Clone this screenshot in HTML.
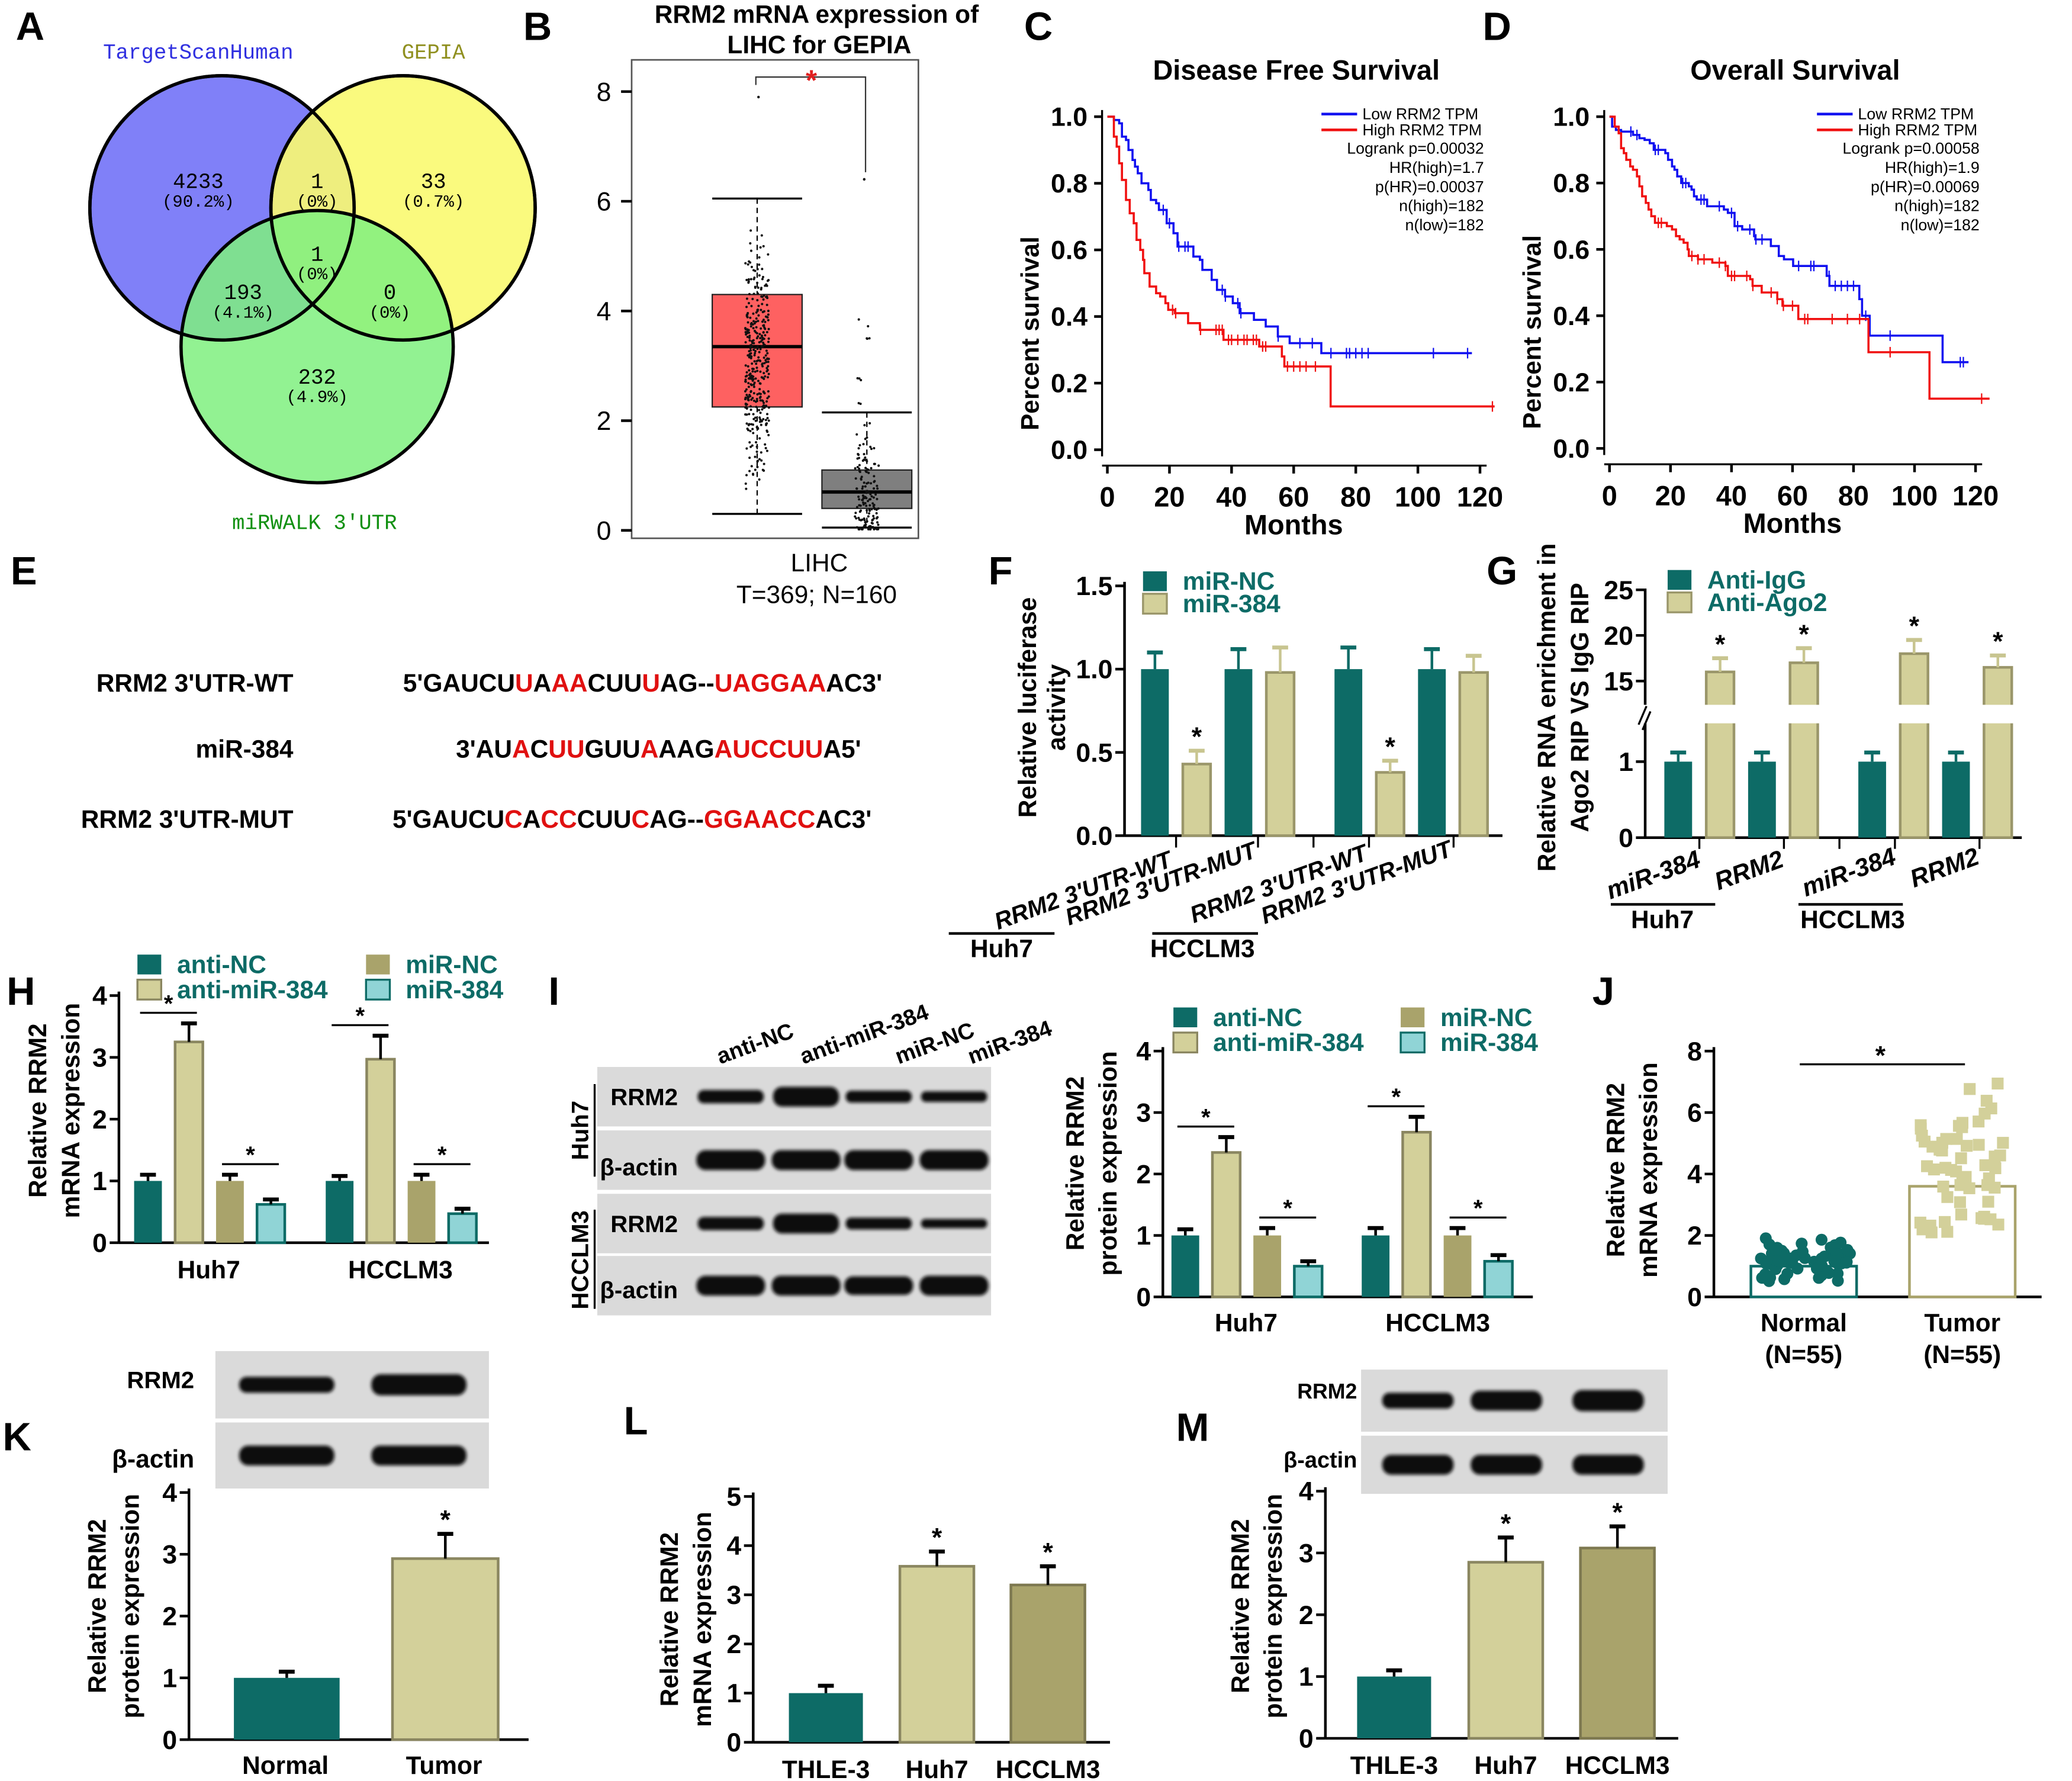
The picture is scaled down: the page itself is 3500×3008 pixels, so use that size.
<!DOCTYPE html>
<html><head><meta charset="utf-8">
<style>
html,body{margin:0;padding:0;background:#fff;}
svg{display:block;font-family:"Liberation Sans",Arial,sans-serif;}
</style></head>
<body>
<svg id="fig" width="3500" height="3008" viewBox="0 0 1568 1347" xmlns="http://www.w3.org/2000/svg">
<defs><filter id="blur" x="-20%" y="-50%" width="140%" height="200%"><feGaussianBlur stdDeviation="1.3"/></filter></defs>
<rect x="0" y="0" width="1568" height="1347" fill="#fff"/>
</svg>
<script>
// ---------- DATA ----------
const boxCats=['Tumor','Normal'];
const boxQ1=[2.25,0.4], boxMed=[3.35,0.7], boxQ3=[4.3,1.1], boxLo=[0.3,0.05], boxHi=[6.05,2.15];
const cLowT=[0,2.1,3.8,4.7,6,6.8,8.1,8.9,9.8,11,13.2,14,15.7,16.6,19.1,21.3,22.6,27.7,29.8,30.6,33.6,35.3,37.9,40.4,42.6,47.2,51,54.9,58.7,68.9,117.4];
const cLowS=[1,0.99,0.98,0.94,0.93,0.9,0.87,0.85,0.83,0.8,0.78,0.75,0.74,0.72,0.68,0.65,0.61,0.58,0.57,0.54,0.51,0.48,0.46,0.44,0.41,0.39,0.37,0.34,0.32,0.29,0.29];
const cHighT=[0,2.1,3,3.8,4.7,6,7.2,8.5,9.4,10.6,11.5,11.9,13.6,15.7,17,18.7,19.6,21.7,26,29.8,37.4,48.9,56.2,57,71.9,124.7];
const cHighS=[1,0.94,0.91,0.86,0.81,0.75,0.71,0.68,0.63,0.6,0.57,0.53,0.49,0.47,0.46,0.44,0.42,0.41,0.38,0.36,0.33,0.31,0.28,0.25,0.13,0.13];
const cLowCens=[18,20,23,25,26,37,38,42,43,55,62,66,72,77,78,80,82,84,105,116];
const cHighCens=[21,22,30,35,36,37,39,40,42,44,45,47,48,50,51,58,60,62,64,67,124];
const dLowT=[0,0.85,2.1,3.8,7.7,9.8,11.5,13.2,14.5,18.3,19.2,20.5,21.3,22.2,23.5,26,26.9,27.7,28.6,32,37.5,38.8,41,43.5,47.4,47.8,52.9,55.5,57.2,60.2,71.2,72.1,81.9,82.8,85.3,109.2,117.7];
const dLowS=[1,0.97,0.96,0.955,0.945,0.935,0.93,0.92,0.9,0.89,0.87,0.85,0.84,0.82,0.8,0.79,0.78,0.76,0.75,0.73,0.72,0.71,0.67,0.66,0.64,0.63,0.61,0.58,0.57,0.55,0.52,0.49,0.45,0.4,0.34,0.26,0.26];
const dHighT=[0,1.7,3,3.8,4.7,5.5,6.8,7.7,9,9.8,10.7,11.9,12.8,13.7,14.9,18.8,20.5,21.8,23,24.3,25.6,26,29,33.7,38,38.8,46.1,46.9,49.9,55,56.7,61.9,84.9,104.9,124.6];
const dHighS=[1,0.97,0.95,0.905,0.89,0.87,0.85,0.84,0.82,0.79,0.76,0.74,0.72,0.7,0.68,0.67,0.66,0.64,0.63,0.62,0.6,0.58,0.57,0.56,0.55,0.52,0.51,0.49,0.47,0.45,0.43,0.39,0.29,0.15,0.15];
const dLowCens=[7,9,15,16,24,25,30,31,36,40,42,46,48,50,62,66,67,72,74,76,78,80,84,92,115,116];
const dHighCens=[16,17,27,29,31,36,38,40,41,45,47,53,55,57,60,64,65,73,78,82,92,122];
const survTicksX=[0,20,40,60,80,100,120];
const survTicksY=[0,0.2,0.4,0.6,0.8,1.0];
const fVals=[1.0,0.43,1.0,0.98,1.0,0.38,1.0,0.98];
const fErr=[0.1,0.08,0.12,0.15,0.13,0.07,0.12,0.1];
const fLabels=["RRM2 3'UTR-WT","RRM2 3'UTR-MUT","RRM2 3'UTR-WT","RRM2 3'UTR-MUT"];
const gVals=[1,16,1,17,1,18,1,16.5];
const gErr=[0.12,1.5,0.12,1.6,0.12,1.5,0.12,1.3];
const gLabels=['miR-384','RRM2','miR-384','RRM2'];
const hVals=[1,3.25,1,0.62,1,2.97,1,0.47];
const hErr=[0.1,0.3,0.1,0.08,0.08,0.38,0.1,0.08];
const iVals=[1,2.35,1,0.5,1,2.68,1,0.58];
const iErr=[0.1,0.25,0.12,0.08,0.12,0.25,0.12,0.1];
const jCats=['Normal','Tumor'];
const jVals=[1.0,3.6];
const kVals=[1,2.93], kErr=[0.1,0.4];
const lVals=[1,3.58,3.2], lErr=[0.15,0.3,0.38];
const mVals=[1,2.85,3.08], mErr=[0.1,0.4,0.35];

// ---------- HELPERS ----------
const NS='http://www.w3.org/2000/svg';
const svg=document.getElementById('fig');
function mk(tag,attrs,name,parent){
  const el=document.createElementNS(NS,tag);
  for(const k in attrs) el.setAttribute(k,attrs[k]);
  
  
  (parent||svg).appendChild(el);
  return el;
}
function T(x,y,s,size,name,o){
  o=o||{};
  const el=mk('text',{x:x,y:y,'font-size':size,'font-weight':o.w||'bold',fill:o.c||'#000','text-anchor':o.a||'start','font-family':o.f||'"Liberation Sans",Arial,sans-serif','font-style':o.i?'italic':'normal'},name);
  if(o.r!==undefined) el.setAttribute('transform','rotate('+o.r+' '+x+' '+y+')');
  el.textContent=s;return el;
}
function L(x1,y1,x2,y2,name,o){o=o||{};return mk('line',{x1:x1,y1:y1,x2:x2,y2:y2,stroke:o.c||'#000','stroke-width':o.w||2,'stroke-dasharray':o.d||'none'},name);}
function R(x,y,w,h,fill,name,o){o=o||{};return mk('rect',{x:x,y:y,width:w,height:h,fill:fill,stroke:o.s||'none','stroke-width':o.sw||2},name);}
const TEAL='#0d6b66', KH='#d3d09a', OL='#a9a36b', CY='#90d4d6';
let seed=7;function rnd(){seed=(seed*9301+49297)%233280;return seed/233280;}

// panel letters
[['A',12,30],['B',396,30],['C',775,30],['D',1122,30],['E',8,442],['F',748,442],['G',1125,442],['H',5,760],['I',415,760],['J',1205,760],['K',2,1097],['L',472,1085],['M',890,1090]].forEach(p=>T(p[1],p[2],p[0],30,'panel-label-'+p[0].toLowerCase()));

// ---------- A: Venn ----------
mk('circle',{cx:168,cy:157,r:100,fill:'#8080f8',stroke:'#000','stroke-width':2.5},'venn-targetscan');
mk('circle',{cx:305,cy:157,r:100,fill:'#fafa70','fill-opacity':0.9,stroke:'#000','stroke-width':2.5},'venn-gepia');
mk('circle',{cx:240,cy:262,r:103,fill:'#7ff07f','fill-opacity':0.85,stroke:'#000','stroke-width':2.5},'venn-mirwalk');
mk('circle',{cx:168,cy:157,r:100,fill:'none',stroke:'#000','stroke-width':2.5},'venn-outline-1');
mk('circle',{cx:305,cy:157,r:100,fill:'none',stroke:'#000','stroke-width':2.5},'venn-outline-2');
const MF='"Liberation Mono",monospace';
T(150,44,'TargetScanHuman',16,'venn-title-targetscan',{w:'normal',c:'#3030e0',a:'middle',f:MF});
T(328,44,'GEPIA',16,'venn-title-gepia',{w:'normal',c:'#909020',a:'middle',f:MF});
T(238,400,"miRWALK 3'UTR",16,'venn-title-mirwalk',{w:'normal',c:'#109010',a:'middle',f:MF});
[[150,142,'4233','(90.2%)'],[240,142,'1','(0%)'],[328,142,'33','(0.7%)'],[240,197,'1','(0%)'],[184,226,'193','(4.1%)'],[295,226,'0','(0%)'],[240,290,'232','(4.9%)']].forEach((v,i)=>{
  T(v[0],v[1],v[2],16,'venn-count-'+i,{w:'normal',a:'middle',f:MF});
  T(v[0],v[1]+14,v[3],13,'venn-pct-'+i,{w:'normal',a:'middle',f:MF});
});

// ---------- B: box plot ----------
R(478,45,217,362,'none','boxplot-frame',{s:'#555',sw:1.2});
const bY=v=>401-v*41.5;
[0,2,4,6,8].forEach(t=>{L(470,bY(t),478,bY(t),'b-ytick');T(457,bY(t)+7,String(t),20,'b-ytick-label',{w:'normal',a:'middle'});});
T(618,17,'RRM2 mRNA expression of',19,'b-title-1',{a:'middle'});
T(620,40,'LIHC for GEPIA',19,'b-title-2',{a:'middle'});
const bCx=[573,656], bCol=['#fe6161','#7f7f7f'];
boxCats.forEach((c,i)=>{
  const cx=bCx[i];
  L(cx-34,bY(boxLo[i]),cx+34,bY(boxLo[i]),'b-whisker-low-'+c,{w:1.5});
  L(cx-34,bY(boxHi[i]),cx+34,bY(boxHi[i]),'b-whisker-high-'+c,{w:1.5});
  L(cx,bY(boxHi[i]),cx,bY(boxQ3[i]),'b-whisker-line',{w:1,d:'4,3'});
  L(cx,bY(boxQ1[i]),cx,bY(boxLo[i]),'b-whisker-line',{w:1,d:'4,3'});
  R(cx-34,bY(boxQ3[i]),68,bY(boxQ1[i])-bY(boxQ3[i]),bCol[i],'b-box-'+c,{s:'#222',sw:1});
  L(cx-34,bY(boxMed[i]),cx+34,bY(boxMed[i]),'b-median-'+c,{w:2.5});
  const n=i===0?369:160;
  for(let k=0;k<n;k++){
    const r1=(rnd()+rnd()+rnd())/3,r2=rnd();
    let v=i===0?boxLo[i]+(boxHi[i]-boxLo[i])*r1: Math.max(0.02,Math.pow(rnd(),1.6)*1.6+ (rnd()>0.9?rnd()*3:0));
    mk('circle',{cx:cx-9+18*r2,cy:bY(v),r:0.9,fill:'#111'},'b-point');
  }
});
mk('circle',{cx:574,cy:bY(7.9),r:1,fill:'#111'},'b-outlier');
mk('circle',{cx:654,cy:bY(6.4),r:1,fill:'#111'},'b-outlier');
mk('polyline',{points:'572,64 572,58 655,58 655,130',fill:'none',stroke:'#333','stroke-width':1},'b-sig-bracket');
T(614,68,'*',22,'b-sig-star',{c:'#e02020',a:'middle'});
T(620,432,'LIHC',19,'b-xlabel',{a:'middle',w:'normal'});
T(618,456,'T=369; N=160',19,'b-xlabel-2',{a:'middle',w:'normal'});

// ---------- C & D survival ----------
function surv(cfg){
  const sx=m=>cfg.x0+(cfg.x1-cfg.x0)*m/120, sy=v=>cfg.y0-(cfg.y0-cfg.y1)*v;
  L(cfg.x0-4,cfg.y1-5,cfg.x0-4,cfg.y0+5,cfg.p+'-yaxis',{w:1.5});
  L(cfg.x0-4,cfg.y0+12,cfg.x1+5,cfg.y0+12,cfg.p+'-xaxis',{w:1.5});
  survTicksY.forEach(t=>{L(cfg.x0-10,sy(t),cfg.x0-4,sy(t),cfg.p+'-ytick');T(cfg.x0-15,sy(t)+7,t.toFixed(1),20,cfg.p+'-ytick-label',{a:'end'});});
  survTicksX.forEach(t=>{L(sx(t),cfg.y0+12,sx(t),cfg.y0+18,cfg.p+'-xtick');T(sx(t),cfg.y0+43,String(t),21,cfg.p+'-xtick-label',{a:'middle'});});
  T((cfg.x0+cfg.x1)/2,cfg.y0+64,'Months',21,cfg.p+'-xtitle',{a:'middle'});
  T(cfg.x0-52,cfg.y0-88,'Percent survival',19,cfg.p+'-ytitle',{a:'middle',r:-90});
  T((cfg.x0+cfg.x1)/2+2,cfg.y1-28,cfg.title,21,cfg.p+'-title',{a:'middle'});
  [[cfg.lowT,cfg.lowS,'#1010f0','low',cfg.lowC],[cfg.highT,cfg.highS,'#f01010','high',cfg.highC]].forEach(s=>{
    let pts='';
    s[0].forEach((t,i)=>{if(i>0)pts+=sx(t)+','+sy(s[1][i-1])+' ';pts+=sx(t)+','+sy(s[1][i])+' ';});
    mk('polyline',{points:pts,fill:'none',stroke:s[2],'stroke-width':1.6},cfg.p+'-curve-'+s[3]);
    const at=m=>{let v=1;s[0].forEach((t,i)=>{if(t<=m)v=s[1][i];});return v;};
    s[4].forEach(m=>L(sx(m),sy(at(m))-4,sx(m),sy(at(m))+4,cfg.p+'-censor-'+s[3],{c:s[2],w:1}));
  });
  const lx=cfg.x1-115,ly=cfg.y1-2;
  L(lx-5,ly,lx+22,ly,cfg.p+'-legend-low',{c:'#1010f0'});T(lx+26,ly+4,'Low RRM2 TPM',12,cfg.p+'-legend-low-text',{w:'normal'});
  L(lx-5,ly+12,lx+22,ly+12,cfg.p+'-legend-high',{c:'#f01010'});T(lx+26,ly+16,'High RRM2 TPM',12,cfg.p+'-legend-high-text',{w:'normal'});
  cfg.stats.forEach((s,i)=>T(cfg.x1+3,ly+30+i*14.5,s,12,cfg.p+'-stat',{w:'normal',a:'end'}));
}
surv({p:'c',x0:838,x1:1120,y0:340,y1:88,title:'Disease Free Survival',lowT:cLowT,lowS:cLowS,highT:cHighT,highS:cHighS,lowC:cLowCens,highC:cHighCens,stats:['Logrank p=0.00032','HR(high)=1.7','p(HR)=0.00037','n(high)=182','n(low)=182']});
surv({p:'d',x0:1218,x1:1495,y0:339,y1:88,title:'Overall Survival',lowT:dLowT,lowS:dLowS,highT:dHighT,highS:dHighS,lowC:dLowCens,highC:dHighCens,stats:['Logrank p=0.00058','HR(high)=1.9','p(HR)=0.00069','n(high)=182','n(low)=182']});

// ---------- E sequences ----------
function seq(x,y,parts,name){
  const el=mk('text',{x:x,y:y,'font-size':19,'font-weight':'bold'},name);
  parts.forEach((p,i)=>{const t=document.createElementNS(NS,'tspan');t.setAttribute('fill',i%2?'#e01010':'#000');t.textContent=p;el.appendChild(t);});
}
T(222,523,"RRM2 3'UTR-WT",19,'e-label-wt',{a:'end'});
T(222,573,'miR-384',19,'e-label-mir',{a:'end'});
T(222,626,"RRM2 3'UTR-MUT",19,'e-label-mut',{a:'end'});
seq(305,523,["5'GAUCU","U","A","AA","CUU","U","AG--","UAGGAA","AC3'"],'e-seq-wt');
seq(345,573,["3'AU","A","C","UU","GUU","A","AAG","AUCCUU","A5'"],'e-seq-mir');
seq(297,626,["5'GAUCU","C","A","CC","CUU","C","AG--","GGAACC","AC3'"],'e-seq-mut');

// ---------- bar chart helper ----------
function bars(c){
  const yf=c.yfn||(v=>c.base-v*(c.base-c.top)/c.max);
  L(c.ax,c.axTop||c.top-3,c.ax,c.base,c.p+'-yaxis');
  L(c.ax,c.base,c.axRight,c.base,c.p+'-xaxis');
  c.ticks.forEach(t=>{L(c.ax-7,yf(t),c.ax,yf(t),c.p+'-ytick');T(c.ax-9,yf(t)+7,c.tickFmt?c.tickFmt(t):String(t),c.fs||20,c.p+'-ytick-label',{a:'end'});});
  const xs=[];
  c.vals.forEach((v,i)=>{
    const cx=c.start+i*c.step+Math.floor(i/c.per)*c.gap;xs.push(cx);
    const col=c.colors[i%c.per], st=c.strokes?c.strokes[i%c.per]:'none';
    R(cx-c.bw/2,yf(v),c.bw,c.base-yf(v),col,c.p+'-bar-'+i,{s:st,sw:2});
    if(c.err){const e=yf(v+c.err[i]);const ec=c.errColors?c.errColors[i%c.per]:'#000';L(cx,yf(v),cx,e,c.p+'-errbar-'+i,{c:ec});L(cx-6,e,cx+6,e,c.p+'-errcap-'+i,{c:ec,w:3});}
    if(c.stars&&c.stars.includes(i)){T(cx,yf(v+(c.err?c.err[i]:0))-4,'*',20,c.p+'-star-'+i,{a:'middle'});}
  });
  return {xs:xs,yf:yf};
}
function legend(x,y,col,label,name,st){R(x,y-13,18,15,col,name+'-swatch',{s:st||'none',sw:1.5});T(x+30,y+1,label,19,name,{c:TEAL});}

// ---------- F ----------
bars({p:'f',ax:851,base:632,top:443,max:1.5,axRight:1137,ticks:[0,0.5,1,1.5],tickFmt:t=>t.toFixed(1),vals:fVals,err:fErr,start:874,step:31.6,per:4,gap:20,bw:21,colors:[TEAL,KH,TEAL,KH],strokes:['none','#9a966a','none','#9a966a'],errColors:[TEAL,'#c8c590',TEAL,'#c8c590'],stars:[1,5]});
[890,952,994,1036,1100].forEach(x=>L(x,632,x,641,'f-category-tick',{w:1.5}));
T(784,535,'Relative luciferase',19,'f-ytitle-1',{a:'middle',r:-90});
T(806,535,'activity',19,'f-ytitle-2',{a:'middle',r:-90});
legend(865,445,TEAL,'miR-NC','f-legend-mirnc');legend(865,462,KH,'miR-384','f-legend-mir384','#9a966a');
[[888,655],[952,648],[1036,650],[1100,647]].forEach((p,i)=>T(p[0],p[1],fLabels[i],18,'f-xlabel-'+i,{a:'end',r:-20,i:true}));
L(718,706,798,706,'f-group-line-huh7');T(758,724,'Huh7',19,'f-group-huh7',{a:'middle'});
L(872,706,952,706,'f-group-line-hcclm3');T(910,724,'HCCLM3',19,'f-group-hcclm3',{a:'middle'});

// ---------- G ----------
const gy=v=>v<=1.5?633.5-v*57.5:515-(v-15)*6.9;
bars({p:'g',ax:1245,base:633.5,top:445,axTop:445,axRight:1530,ticks:[0,1,15,20,25],yfn:gy,vals:gVals,err:gErr,start:1270,step:31.7,per:4,gap:20,bw:21,colors:[TEAL,KH,TEAL,KH],strokes:['none','#9a966a','none','#9a966a'],errColors:[TEAL,'#c8c590',TEAL,'#c8c590'],stars:[1,3,5,7]});
R(1238,533,300,14,'#fff','g-axis-break');
L(1240,548,1246,534,'g-break-mark-1',{w:1.5});L(1243,552,1249,538,'g-break-mark-2',{w:1.5});
[1286,1350,1392,1434,1498].forEach(x=>L(x,633.5,x,642,'g-category-tick',{w:1.5}));
T(1177,535,'Relative RNA enrichment in',19,'g-ytitle-1',{a:'middle',r:-90});
T(1202,535,'Ago2 RIP VS IgG RIP',19,'g-ytitle-2',{a:'middle',r:-90});
legend(1262,444,TEAL,'Anti-IgG','g-legend-igg');legend(1262,461,KH,'Anti-Ago2','g-legend-ago2','#9a966a');
[[1288,655],[1351,655],[1436,653],[1499,653]].forEach((p,i)=>T(p[0],p[1],gLabels[i],19,'g-xlabel-'+i,{a:'end',r:-20,i:true}));
L(1219,684,1298,684,'g-group-line-huh7');T(1258,702,'Huh7',19,'g-group-huh7',{a:'middle'});
L(1361,684,1440,684,'g-group-line-hcclm3');T(1402,702,'HCCLM3',19,'g-group-hcclm3',{a:'middle'});

// ---------- H ----------
const hB=bars({p:'h',ax:90,base:940,top:753,max:4,axRight:370,ticks:[0,1,2,3,4],vals:hVals,err:hErr,start:112,step:31,per:4,gap:21,bw:21,colors:[TEAL,KH,OL,CY],strokes:['none','#8a8660','none',TEAL]});
function pairStars(b,vals,err,p){
  [[0,1],[2,3],[4,5],[6,7]].forEach((pr,j)=>{
    const top=Math.min(b.yf(vals[pr[0]]+err[pr[0]]),b.yf(vals[pr[1]]+err[pr[1]]))-8;
    L(b.xs[pr[0]]-6,top,b.xs[pr[1]]+6,top,p+'-sig-line-'+j,{w:1.5});
    T((b.xs[pr[0]]+b.xs[pr[1]])/2,top-1,'*',18,p+'-sig-star-'+j,{a:'middle'});
  });
}
pairStars(hB,hVals,hErr,'h');
T(35,840,'Relative RRM2',19,'h-ytitle-1',{a:'middle',r:-90});T(60,840,'mRNA expression',19,'h-ytitle-2',{a:'middle',r:-90});
legend(104,735,TEAL,'anti-NC','h-legend-antinc');legend(104,754,KH,'anti-miR-384','h-legend-antimir',"#8a8660");
legend(277,735,OL,'miR-NC','h-legend-mirnc');legend(277,754,CY,'miR-384','h-legend-mir384',TEAL);
T(158,967,'Huh7',19,'h-group-huh7',{a:'middle'});T(303,967,'HCCLM3',19,'h-group-hcclm3',{a:'middle'});

// ---------- blots ----------
function blot(x,y,w,h,bandsX,bw,thick,name){
  R(x,y,w,h,'#dadada',name+'-strip');
  bandsX.forEach((bx,i)=>mk('rect',{x:bx-bw/2,y:y+h/2-thick[i]/2,width:bw,height:thick[i],rx:thick[i]/2.2,fill:'#111',filter:'url(#blur)'},name+'-band-'+i));
}
const iLanes=[553,610,665,722];
blot(452,807,298,45,iLanes,50,[10,15,9,8],'i-blot-huh7-rrm2');
blot(452,855,298,45,iLanes,52,[15,15,15,15],'i-blot-huh7-actin');
blot(452,903,298,45,iLanes,50,[10,15,9,7],'i-blot-hcclm3-rrm2');
blot(452,950,298,45,iLanes,52,[15,15,14,15],'i-blot-hcclm3-actin');
T(462,836,'RRM2',18,'i-label-rrm2-1');T(454,889,'β-actin',18,'i-label-actin-1');
T(462,932,'RRM2',18,'i-label-rrm2-2');T(454,982,'β-actin',18,'i-label-actin-2');
L(450,820,450,890,'i-bracket-huh7',{w:1.5});L(450,915,450,990,'i-bracket-hcclm3',{w:1.5});
T(445,855,'Huh7',18,'i-side-huh7',{a:'middle',r:-90});T(445,953,'HCCLM3',18,'i-side-hcclm3',{a:'middle',r:-90});
['anti-NC','anti-miR-384','miR-NC','miR-384'].forEach((s,i)=>T([545,608,680,735][i],805,s,17,'i-lane-label-'+i,{r:-20}));
const iB=bars({p:'i',ax:880,base:981,top:795,max:4,axRight:1160,ticks:[0,1,2,3,4],vals:iVals,err:iErr,start:897,step:31,per:4,gap:20,bw:21,colors:[TEAL,KH,OL,CY],strokes:['none','#8a8660','none',TEAL]});
pairStars(iB,iVals,iErr,'i');
T(820,880,'Relative RRM2',19,'i-ytitle-1',{a:'middle',r:-90});T(845,880,'protein expression',19,'i-ytitle-2',{a:'middle',r:-90});
legend(888,775,TEAL,'anti-NC','i-legend-antinc');legend(888,794,KH,'anti-miR-384','i-legend-antimir','#8a8660');
legend(1060,775,OL,'miR-NC','i-legend-mirnc');legend(1060,794,CY,'miR-384','i-legend-mir384',TEAL);
T(943,1007,'Huh7',19,'i-group-huh7',{a:'middle'});T(1088,1007,'HCCLM3',19,'i-group-hcclm3',{a:'middle'});

// ---------- J ----------
const jB=bars({p:'j',ax:1297,base:981,top:795,max:8,axRight:1545,ticks:[0,2,4,6,8],vals:jVals,start:1365,step:120,per:2,gap:0,bw:80,colors:['#fff','#fff'],strokes:[TEAL,'#a9a36b']});
jCats.forEach((c,i)=>{
  for(let k=0;k<55;k++){
    const r1=(rnd()+rnd())/2,r2=rnd();
    const v=i===0?0.15+r1*2.1:1.4+r1*5.7;
    const cx=jB.xs[i]-35+70*r2, cy=jB.yf(v);
    if(i===0) mk('circle',{cx:cx,cy:cy,r:4.5,fill:TEAL},'j-point-normal');
    else R(cx-4.5,cy-4.5,9,9,KH,'j-point-tumor');
  }
});
L(1362,805,1487,805,'j-sig-line',{w:1.5});T(1423,805,'*',20,'j-sig-star',{a:'middle'});
T(1229,885,'Relative RRM2',19,'j-ytitle-1',{a:'middle',r:-90});T(1254,885,'mRNA expression',19,'j-ytitle-2',{a:'middle',r:-90});
T(1365,1007,'Normal',19,'j-xlabel-normal',{a:'middle'});T(1365,1031,'(N=55)',19,'j-xlabel-normal-n',{a:'middle'});
T(1485,1007,'Tumor',19,'j-xlabel-tumor',{a:'middle'});T(1485,1031,'(N=55)',19,'j-xlabel-tumor-n',{a:'middle'});

// ---------- K ----------
blot(163,1022,207,51,[217,317],72,[12,16],'k-blot-rrm2');
blot(163,1076,207,50,[217,317],72,[15,15],'k-blot-actin');
T(147,1050,'RRM2',18,'k-label-rrm2',{a:'end'});T(147,1110,'β-actin',19,'k-label-actin',{a:'end'});
bars({p:'k',ax:143,base:1316,top:1129,max:4,axRight:400,ticks:[0,1,2,3,4],vals:kVals,err:kErr,start:217,step:120,per:2,gap:0,bw:80,colors:[TEAL,KH],strokes:['none','#8a8660'],stars:[1]});
T(80,1215,'Relative RRM2',19,'k-ytitle-1',{a:'middle',r:-90});T(105,1215,'protein expression',19,'k-ytitle-2',{a:'middle',r:-90});
T(216,1342,'Normal',19,'k-xlabel-normal',{a:'middle'});T(336,1342,'Tumor',19,'k-xlabel-tumor',{a:'middle'});

// ---------- L ----------
bars({p:'l',ax:570,base:1318,top:1132,max:5,axRight:840,ticks:[0,1,2,3,4,5],vals:lVals,err:lErr,start:625,step:84,per:3,gap:0,bw:56,colors:[TEAL,KH,OL],strokes:['none','#8a8660','#7d7850'],stars:[1,2]});
T(513,1225,'Relative RRM2',19,'l-ytitle-1',{a:'middle',r:-90});T(538,1225,'mRNA expression',19,'l-ytitle-2',{a:'middle',r:-90});
['THLE-3','Huh7','HCCLM3'].forEach((s,i)=>T(625+i*84,1345,s,19,'l-xlabel-'+i,{a:'middle'}));

// ---------- M ----------
blot(1030,1036,232,47,[1073,1140,1217],54,[12,15,16],'m-blot-rrm2');
blot(1030,1086,232,44,[1073,1140,1217],54,[15,15,15],'m-blot-actin');
T(1027,1058,'RRM2',16,'m-label-rrm2',{a:'end'});T(1027,1110,'β-actin',17,'m-label-actin',{a:'end'});
bars({p:'m',ax:1003,base:1315,top:1128,max:4,axRight:1270,ticks:[0,1,2,3,4],vals:mVals,err:mErr,start:1055,step:84.5,per:3,gap:0,bw:56,colors:[TEAL,KH,OL],strokes:['none','#8a8660','#7d7850'],stars:[1,2]});
T(945,1215,'Relative RRM2',19,'m-ytitle-1',{a:'middle',r:-90});T(970,1215,'protein expression',19,'m-ytitle-2',{a:'middle',r:-90});
['THLE-3','Huh7','HCCLM3'].forEach((s,i)=>T(1055+i*84.5,1342,s,19,'m-xlabel-'+i,{a:'middle'}));
</script>
</body></html>
